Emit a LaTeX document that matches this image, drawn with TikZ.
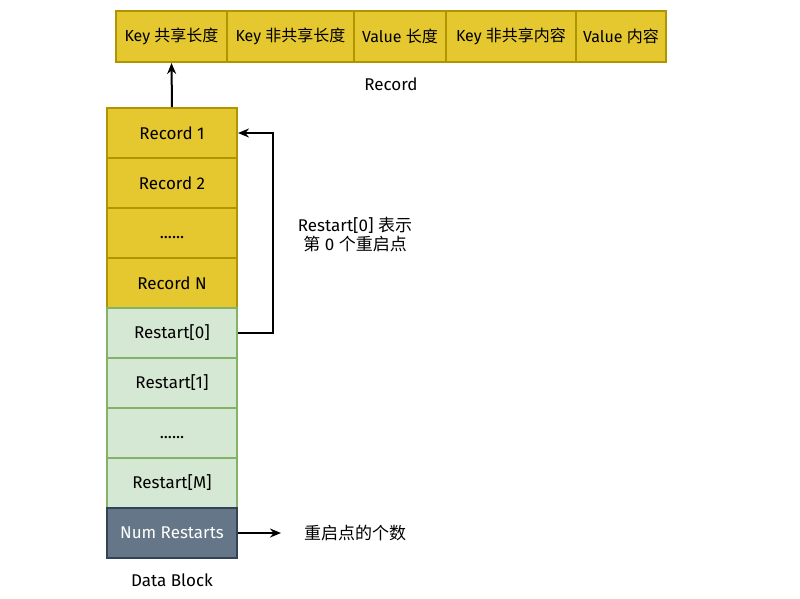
\documentclass[tikz,border=0pt]{standalone}
\usepackage{fontspec}
\setmainfont{Fira Sans}
\newfontfamily\cjk{Noto Sans CJK SC}
\usetikzlibrary{arrows.meta}
\definecolor{yfill}{HTML}{E5C730}
\definecolor{ystroke}{HTML}{B09500}
\definecolor{gfill}{HTML}{D5E8D4}
\definecolor{gstroke}{HTML}{82B366}
\definecolor{dfill}{HTML}{647687}
\definecolor{dstroke}{HTML}{314354}
\begin{document}
\begin{tikzpicture}[x=1pt,y=-1pt,
  every node/.style={font=\fontsize{17}{19}\selectfont, inner sep=0pt},
  ybox/.style={draw=ystroke, fill=yfill, line width=2pt},
  gbox/.style={draw=gstroke, fill=gfill, line width=2pt},
  dbox/.style={draw=dstroke, fill=dfill, line width=2pt, text=white},
  cell/.style={minimum width=130pt, minimum height=50pt},
  topcell/.style={ybox, minimum height=51pt, font=\fontsize{16}{19}\selectfont},
  conn/.style={line width=2pt, -{Stealth[length=11pt,width=9pt]}}]
\useasboundingbox (0,0) rectangle (800,598);
% top record row
\node[topcell, minimum width=111pt] (k1) at (171.5,36.5) {Key {\cjk 共享长度}};
\node[topcell, minimum width=127pt] (k2) at (290.5,36.5) {Key {\cjk 非共享长度}};
\node[topcell, minimum width=92pt] (k3) at (400,36.5) {Value {\cjk 长度}};
\node[topcell, minimum width=130pt] (k4) at (511,36.5) {Key {\cjk 非共享内容}};
\node[topcell, minimum width=90pt] (k5) at (621,36.5) {Value {\cjk 内容}};
\node (rec) at (391,84) {Record};
% column
\node[ybox, cell] (r1) at (172,133) {Record 1};
\node[ybox, cell] (r2) at (172,183) {Record 2};
\node[ybox, cell] (r3) at (172,233) {\rule{0pt}{12pt}......};
\node[ybox, cell] (r4) at (172,283) {Record N};
\node[gbox, cell] (s0) at (172,333) {Restart[0]};
\node[gbox, cell] (s1) at (172,383) {Restart[1]};
\node[gbox, cell] (s2) at (172,433) {\rule{0pt}{12pt}......};
\node[gbox, cell] (s3) at (172,483) {Restart[M]};
\node[dbox, cell] (nr) at (172,533) {Num Restarts};
\node (db) at (172,580) {Data Block};
% connectors
\draw[conn] (r1.north) -- (k1.south);
\draw[conn] (s0.east) -- (273,333) -- (273,133) -- (r1.east);
\node[align=center, font=\fontsize{17}{19}\selectfont] (lbl) at (355,235) {Restart[0] {\cjk 表示}\\{\cjk 第} 0 {\cjk 个重启点}};
\coordinate (nrend) at (281,533);
\draw[conn] (nr.east) -- (nrend);
\node (cnt) at (355,533) {\cjk 重启点的个数};
\end{tikzpicture}
\end{document}
